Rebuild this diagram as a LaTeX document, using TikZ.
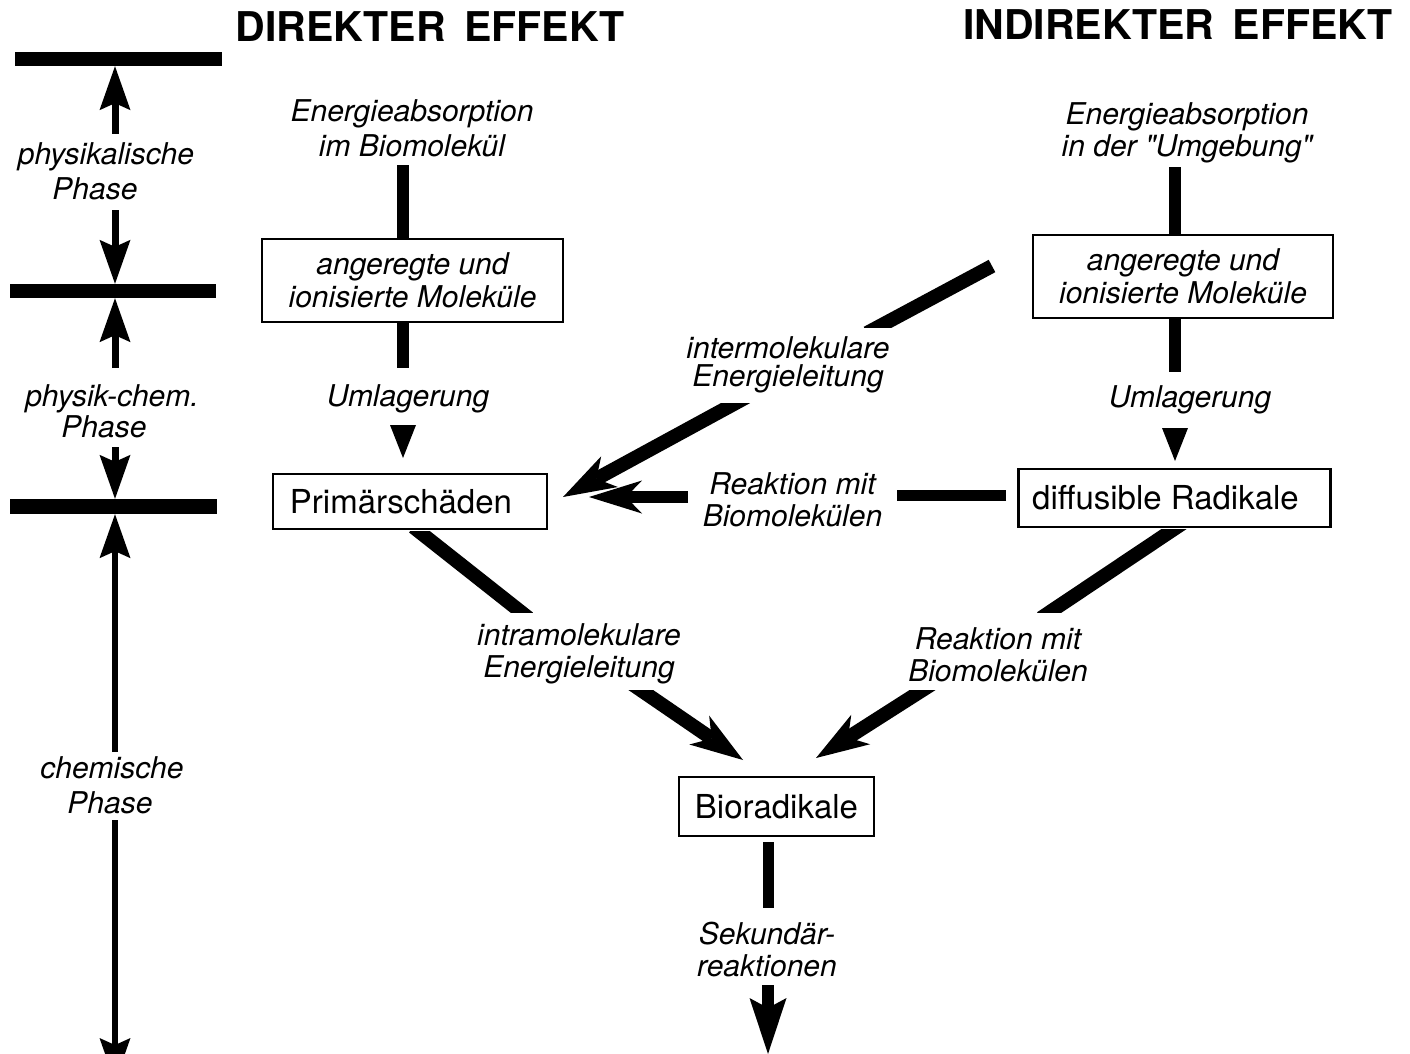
\documentclass[tikz,border=0pt]{standalone}
\usepackage{fontspec}
\setmainfont{TeX Gyre Heros}[Ligatures=TeXOff]
\usetikzlibrary{arrows.meta}
\begin{document}
\begin{tikzpicture}[x=1pt,y=-1pt,
  lbl/.style={font=\itshape\fontsize{30}{35}\selectfont, align=center, inner sep=0pt},
  lblmid/.style={lbl, font=\itshape\fontsize{30}{32}\selectfont},
  lbltight/.style={lbl, font=\itshape\fontsize{30}{28}\selectfont},
  ttl/.style={font=\bfseries\fontsize{41}{45}\selectfont, inner sep=0pt},
  ibox/.style={draw, line width=2.8pt, font=\itshape\fontsize{30}{33}\selectfont, align=center, inner sep=0pt},
  ubox/.style={draw, line width=2.8pt, font=\fontsize{33}{36}\selectfont, inner sep=0pt},
  bar/.style={fill=black, inner sep=0pt, minimum height=14pt},
  thk/.style={line width=12pt},
  diag/.style={line width=14pt},
  phasearr/.style={line width=7pt, -{Stealth[length=44pt, width=31pt, inset=7pt, line width=0pt]}},
  bigarr/.style={line width=14pt, -{Stealth[length=53pt, width=35pt, inset=15pt, line width=0pt]}},
  tri/.style={line width=1pt, -{Triangle[length=33pt, width=26pt, line width=0pt]}},
]
\clip (0,0) rectangle (1410,1054);
\fill[white] (0,0) rectangle (1410,1054);

% titles
\node[ttl] (tdir) at (430,27) {DIREKTER\hspace{0.45em}EFFEKT};
\node[ttl] (tind) at (1178,25) {INDIREKTER\hspace{0.45em}EFFEKT};

% phase bars
\node[bar, minimum width=207pt] (bar1) at (118.5,59) {};
\node[bar, minimum width=206pt] (bar2) at (113,291) {};
\node[bar, minimum width=207pt, minimum height=15pt] (bar3) at (113.5,506.5) {};

% phase labels
\node[lbl] (phys) at (106,171.5) {physikalische\\\hspace*{-22pt}Phase};
\node[lbl, font=\itshape\fontsize{30}{31}\selectfont] (pchem) at (112,411) {physik-chem.\\\hspace*{-16pt}Phase};
\node[lbl] (chem) at (112,785) {chemische\\\hspace*{-4pt}Phase};

% phase arrows
\coordinate (a1s) at (115,134);
\draw[phasearr] (a1s) -- (a1s |- bar1.south);
\coordinate (a2s) at (115,210);
\draw[phasearr] (a2s) -- (a2s |- bar2.north);
\coordinate (a3s) at (115,368);
\draw[phasearr] (a3s) -- (a3s |- bar2.south);
\coordinate (a4s) at (115,447);
\draw[phasearr] (a4s) -- (a4s |- bar3.north);
\coordinate (a5s) at (115,752);
\draw[phasearr, line width=5.5pt] (a5s) -- (a5s |- bar3.south);
\coordinate (a6s) at (115,820);
\coordinate (a6e) at (115,1082);
\draw[phasearr, line width=5.5pt] (a6s) -- (a6e);

% direct effect column
\node[lbl] (eabs1) at (412,128.5) {Energieabsorption\\im Biomolekül};
\node[ibox, minimum width=301pt, minimum height=83pt] (box1) at (412.5,280.5) {angeregte und\\ionisierte Moleküle};
\coordinate (d1) at (403,165);
\draw[thk] (d1) -- (d1 |- box1.north);
\coordinate (d2) at (403,368);
\draw[thk] (d2 |- box1.south) -- (d2);
\node[lbl] (uml1) at (408,399) {Umlagerung};
\coordinate (t1) at (403,425);
\coordinate (t1e) at (403,458);
\draw[tri] (t1) -- (t1e);
\node[ubox, minimum width=274pt, minimum height=55pt] (prim) at (410,501.5) {\hspace*{-18pt}Primärschäden};

\coordinate (i1) at (413.4,527);
\coordinate (i2) at (528.6,618);
\begin{scope}
  \clip (0,531) rectangle (1410,612);
  \draw[diag] (i1) -- (i2);
\end{scope}
\node[lblmid] (intra) at (579,653.5) {intramolekulare\\Energieleitung};
\coordinate (i3) at (632,684);
\coordinate (i4) at (743,760);
\begin{scope}
  \clip (0,690) rectangle (1410,1054);
  \draw[bigarr] (i3) -- (i4);
\end{scope}

% indirect effect column
\node[lblmid] (eabs2) at (1187,132.5) {Energieabsorption\\in der "Umgebung"};
\node[ibox, minimum width=300pt, minimum height=83pt] (box2) at (1183,276.5) {angeregte und\\ionisierte Moleküle};
\coordinate (r1) at (1175,167);
\draw[thk] (r1) -- (r1 |- box2.north);
\coordinate (r2) at (1175,372);
\draw[thk] (r2 |- box2.south) -- (r2);
\node[lbl] (uml2) at (1190,400) {Umlagerung};
\coordinate (t2) at (1175,428);
\coordinate (t2e) at (1175,461);
\draw[tri] (t2) -- (t2e);
\node[ubox, minimum width=312pt, minimum height=58pt] (diff) at (1174.5,498) {\hspace*{-18pt}diffusible Radikale};

\coordinate (h0) at (1006,495.5);
\coordinate (h1) at (897,495.5);
\draw[thk, line width=11pt] (h0) -- (h1);
\node[lblmid] (reak1) at (792.5,500) {Reaktion mit\\Biomolekülen};
\coordinate (h2) at (688,497);
\coordinate (h3) at (589,497);
\draw[line width=12pt, -{Stealth[length=53pt, width=33pt, inset=16pt, line width=0pt]}] (h2) -- (h3);

\coordinate (e1) at (992,266);
\coordinate (e2) at (867,333);
\begin{scope}
  \clip (0,0) rectangle (1410,327);
  \draw[diag] (e1) -- (e2);
\end{scope}
\node[lbltight] (inter) at (788,365) {intermolekulare\\Energieleitung};
\coordinate (e3) at (746.7,397);
\coordinate (e4) at (563,497);
\begin{scope}
  \clip (0,403) rectangle (1410,1054);
  \draw[bigarr] (e3) -- (e4);
\end{scope}

\coordinate (f1) at (1183,523);
\coordinate (f2) at (1041,618);
\begin{scope}
  \clip (0,529) rectangle (1410,612);
  \draw[diag] (f1) -- (f2);
\end{scope}
\node[lblmid] (reak2) at (998,655) {Reaktion mit\\Biomolekülen};
\coordinate (f3) at (932,684);
\coordinate (f4) at (816,758);
\begin{scope}
  \clip (0,690) rectangle (1410,1054);
  \draw[bigarr] (f3) -- (f4);
\end{scope}

% bottom
\node[ubox, minimum width=195pt, minimum height=59pt] (bio) at (776.5,806.5) {Bioradikale};
\coordinate (b1) at (768,842);
\coordinate (b2) at (768,908);
\draw[thk, line width=11pt] (b1) -- (b2);
\node[lblmid] (sek) at (767,950) {Sekundär-\\reaktionen};
\coordinate (b3) at (768,985);
\coordinate (b4) at (768,1054);
\draw[line width=12pt, -{Stealth[length=56pt, width=37pt, inset=10pt, line width=0pt]}] (b3) -- (b4);
\end{tikzpicture}
\end{document}
